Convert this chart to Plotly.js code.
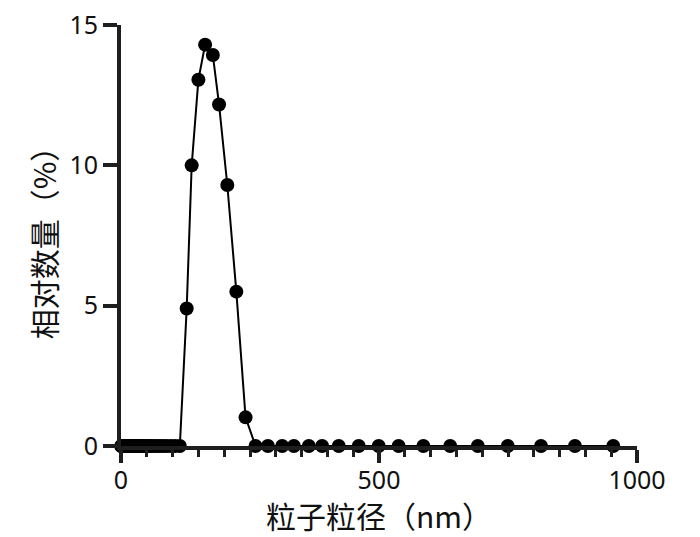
<!DOCTYPE html>
<html>
<head>
<meta charset="utf-8">
<script src="https://cdn.plot.ly/plotly-3.0.1.min.js"></script>
<style>html,body{margin:0;padding:0;background:#fff;}#chart{width:700px;height:537px;}</style>
</head>
<body>
<div id="chart"></div>
<script>
// Particle size (nm) and relative amount (%)
const sizeLow = [0.5, 1, 2, 3, 4, 5, 6, 8, 10, 12, 14, 16, 18, 20, 22, 24, 26, 28, 31, 33.6, 36.4, 39.5, 42.9, 46.5, 50.5, 54.8, 59.4, 64.5, 70, 76, 82, 89, 97, 105, 114];
const amountLow = [0, 0, 0, 0, 0, 0, 0, 0, 0, 0, 0, 0, 0, 0, 0, 0, 0, 0, 0, 0, 0, 0, 0, 0, 0, 0, 0, 0, 0, 0, 0, 0, 0, 0, 0];
const sizePeak = [127.3, 137, 150, 163, 178, 190, 206, 223.5, 241.4];
const amountPeak = [4.9, 10.0, 13.05, 14.3, 13.93, 12.17, 9.3, 5.5, 1.02];
const sizeHigh = [260.7, 284.7, 312.4, 335, 364, 389.8, 422, 460.7, 499.4, 538, 586, 638, 691.5, 749.5, 814, 879.7, 954];
const amountHigh = [0, 0, 0, 0, 0, 0, 0, 0, 0, 0, 0, 0, 0, 0, 0, 0, 0];
const xTickVals = [0, 500, 1000];
const xTickText = ['0', '500', '1000'];
const yTickVals = [0, 5, 10, 15];
const yTickText = ['0', '5', '10', '15'];
const xTitle = '粒子粒径（nm）';
const yTitle = '相对数量（%）';

const x = sizeLow.concat(sizePeak, sizeHigh);
const y = amountLow.concat(amountPeak, amountHigh);

const axisColor = '#1e1e1e';
const tickFont = {family: 'Noto Sans, Open Sans, sans-serif', size: 25, color: '#111'};
const titleFont = {family: 'Noto Sans CJK SC, sans-serif', size: 30, color: '#111'};

Plotly.newPlot('chart', [{
  x: x, y: y,
  type: 'scatter', mode: 'lines+markers',
  line: {color: '#000', width: 2},
  marker: {color: '#000', size: 14},
  cliponaxis: false,
  hoverinfo: 'skip'
}], {
  width: 700, height: 537,
  margin: {l: 121, r: 63, t: 25, b: 91},
  paper_bgcolor: '#fff', plot_bgcolor: '#fff',
  showlegend: false,
  xaxis: {
    range: [0, 1000], showgrid: false, zeroline: false,
    showline: true, linecolor: axisColor, linewidth: 4,
    ticks: 'outside', ticklen: 13, tickwidth: 4, tickcolor: axisColor,
    ticklabelstandoff: -4,
    tickvals: xTickVals, ticktext: xTickText, tickfont: tickFont,
    minor: {dtick: 50, tick0: 0, ticks: 'outside', ticklen: 7, tickwidth: 3, tickcolor: axisColor, showgrid: false},
    title: {text: xTitle, font: titleFont, standoff: 8}
  },
  yaxis: {
    range: [0, 15], showgrid: false, zeroline: false,
    showline: true, linecolor: axisColor, linewidth: 4,
    ticks: 'outside', ticklen: 14, tickwidth: 4, tickcolor: axisColor,
    tickvals: yTickVals, ticktext: yTickText, tickfont: tickFont,
    title: {text: yTitle, font: titleFont, standoff: 5}
  }
}, {staticPlot: true});
</script>
</body>
</html>
